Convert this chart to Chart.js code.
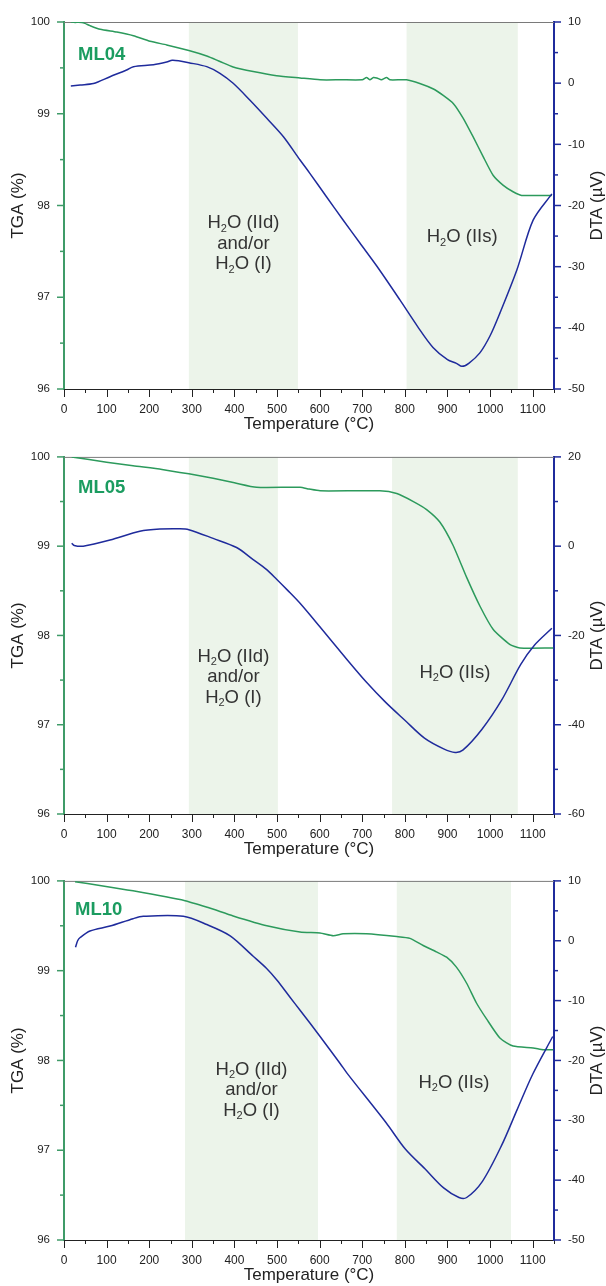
<!DOCTYPE html>
<html>
<head>
<meta charset="utf-8">
<script src="https://cdn.jsdelivr.net/npm/chart.js@4.4.0/dist/chart.umd.min.js"></script>
<style>
  body { margin: 0; background: #fff; }
  #wrap { position: relative; width: 606px; height: 1286px; }
  canvas { position: absolute; left: 0; }
</style>
</head>
<body>
<div id="wrap">
  <canvas id="c1" width="606" height="436" style="top:0px"></canvas>
  <canvas id="c2" width="606" height="424" style="top:436px"></canvas>
  <canvas id="c3" width="606" height="426" style="top:860px"></canvas>
</div>
<script>
// ML04
const ml04TgaTemp = [16, 26, 34, 42, 49, 61, 85, 124, 163, 202, 241, 293, 335, 366, 397, 444, 499, 554, 601, 650, 700, 710, 718, 726, 734, 745, 757, 765, 804, 835, 867, 890, 914, 937, 960, 984, 1007, 1031, 1054, 1074, 1110, 1145];
const ml04Tga     = [100.0, 99.995, 99.998, 99.995, 99.985, 99.96, 99.92, 99.89, 99.85, 99.79, 99.75, 99.69, 99.63, 99.57, 99.51, 99.46, 99.415, 99.39, 99.37, 99.37, 99.37, 99.395, 99.37, 99.395, 99.39, 99.37, 99.395, 99.37, 99.37, 99.33, 99.27, 99.20, 99.11, 98.95, 98.75, 98.53, 98.33, 98.22, 98.15, 98.11, 98.11, 98.11];
const ml04DtaTemp = [16, 38, 69, 108, 147, 163, 210, 241, 254, 272, 293, 335, 366, 397, 436, 476, 515, 554, 577, 616, 655, 694, 734, 788, 830, 866, 900, 921, 934, 950, 976, 1000, 1023, 1063, 1101, 1145];
const ml04Dta     = [-0.46, -0.30, -0.07, 1.06, 2.15, 2.70, 3.02, 3.46, 3.74, 3.62, 3.35, 2.70, 1.61, -0.02, -2.75, -5.74, -8.75, -12.56, -14.74, -18.56, -22.37, -26.1, -29.9, -35.4, -39.8, -43.2, -45.2, -45.8, -46.3, -45.8, -44.1, -41.3, -37.6, -30.5, -22.4, -18.1];
const ml04Bands   = [[293, 549], [804, 1065]];

// ML05
const ml05TgaTemp = [18, 100, 162, 230, 293, 350, 400, 452, 554, 575, 601, 741, 781, 820, 851, 882, 913, 945, 976, 1007, 1046, 1070, 1148];
const ml05Tga     = [100.0, 99.94, 99.90, 99.86, 99.81, 99.76, 99.71, 99.66, 99.66, 99.64, 99.62, 99.62, 99.59, 99.50, 99.41, 99.27, 99.01, 98.65, 98.33, 98.07, 97.90, 97.86, 97.86];
const ml05DtaTemp = [18, 24, 45, 108, 178, 225, 272, 293, 350, 405, 444, 475, 499, 525, 554, 600, 665, 710, 755, 800, 846, 891, 918, 936, 981, 1027, 1072, 1104, 1145];
const ml05Dta     = [0.65, 0.15, 0.0, 1.37, 3.33, 3.84, 3.91, 3.70, 1.74, -0.3, -3.0, -5.2, -7.4, -9.9, -12.8, -18.0, -25.5, -30.5, -35.0, -39.0, -43.0, -45.4, -46.2, -45.7, -41.0, -34.5, -26.5, -22.2, -18.4];
const ml05Bands   = [[293, 502], [770, 1065]];

// ML10
const ml10TgaTemp = [26, 84, 162, 284, 340, 397, 476, 554, 601, 632, 655, 710, 781, 812, 843, 874, 898, 921, 945, 968, 992, 1023, 1054, 1101, 1125, 1148];
const ml10Tga     = [99.99, 99.95, 99.89, 99.78, 99.70, 99.61, 99.50, 99.43, 99.42, 99.39, 99.41, 99.41, 99.38, 99.36, 99.28, 99.21, 99.15, 99.04, 98.86, 98.64, 98.46, 98.25, 98.16, 98.14, 98.12, 98.12];
const ml10DtaTemp = [27, 32, 38, 61, 108, 162, 186, 280, 335, 390, 444, 475, 500, 530, 554, 601, 648, 665, 756, 801, 847, 891, 927, 945, 982, 1027, 1063, 1100, 1147];
const ml10Dta     = [-1.09, 0.0, 0.54, 1.63, 2.45, 3.69, 4.08, 4.08, 2.71, 0.82, -2.6, -4.6, -6.6, -9.4, -11.6, -16.0, -20.5, -22.2, -30.4, -34.8, -38.1, -41.3, -42.9, -42.9, -40.2, -34.2, -28.3, -22.3, -16.0];
const ml10Bands   = [[284, 596], [781, 1049]];

const FONT = "'Liberation Sans', Arial, sans-serif";
const GREEN = '#2c9a5c';
const AXIS_GREEN = '#3f9b68';
const LABEL_GREEN = '#1b9c60';
const BLUE = '#1f2b9c';
const SHADE = '#ecf4ea';
const TEXT = '#333333';

Chart.defaults.font.family = FONT;
Chart.defaults.color = '#222';

function drawRich(ctx, parts, cx, cy, size) {
  const big = size + 'px ' + FONT;
  const small = Math.round(size * 0.6) + 'px ' + FONT;
  let w = 0;
  parts.forEach(([t, sub]) => { ctx.font = sub ? small : big; w += ctx.measureText(t).width; });
  let x = cx - w / 2;
  ctx.textAlign = 'left';
  ctx.textBaseline = 'middle';
  parts.forEach(([t, sub]) => {
    ctx.font = sub ? small : big;
    ctx.fillText(t, x, sub ? cy + size * 0.3 : cy);
    x += ctx.measureText(t).width;
  });
}

function eachTick(min, max, step, major, fn) {
  const n = Math.round((max - min) / step);
  for (let i = 0; i <= n; i++) {
    const v = min + i * step;
    const r = v / major;
    fn(v, Math.abs(r - Math.round(r)) < 1e-6);
  }
}

const decor = {
  id: 'decor',
  beforeDraw(chart, args, o) {
    const {ctx, chartArea: a, scales: {x}} = chart;
    ctx.save();
    ctx.fillStyle = SHADE;
    o.bands.forEach(([t0, t1]) => {
      const x0 = x.getPixelForValue(t0), x1 = x.getPixelForValue(t1);
      ctx.fillRect(x0, a.top, x1 - x0, a.bottom - a.top);
    });
    ctx.restore();
  },
  beforeDatasetsDraw(chart) {
    const {ctx, chartArea: a} = chart;
    // top frame line, under the curves
    ctx.save();
    ctx.strokeStyle = '#7a7a7a';
    ctx.lineWidth = 1;
    ctx.beginPath();
    ctx.moveTo(a.left, a.top + 0.5);
    ctx.lineTo(a.right, a.top + 0.5);
    ctx.stroke();
    ctx.restore();
  },
  afterDraw(chart, args, o) {
    const {ctx, chartArea: a, scales: {x, y, y2}} = chart;
    ctx.save();

    // tick marks
    ctx.lineWidth = 1;
    ctx.strokeStyle = '#222';
    eachTick(x.min, x.max, 50, 100, (v, major) => {
      const px = Math.round(x.getPixelForValue(v)) + 0.5;
      ctx.beginPath(); ctx.moveTo(px, a.bottom); ctx.lineTo(px, a.bottom + (major ? 8 : 4)); ctx.stroke();
    });
    ctx.lineWidth = 1.5;
    ctx.strokeStyle = AXIS_GREEN;
    eachTick(y.min, y.max, 0.5, 1, (v, major) => {
      const py = y.getPixelForValue(v);
      ctx.beginPath(); ctx.moveTo(a.left - (major ? 7 : 4), py); ctx.lineTo(a.left, py); ctx.stroke();
    });
    ctx.strokeStyle = BLUE;
    eachTick(y2.min, y2.max, o.dtaMinor, o.dtaMinor * 2, (v, major) => {
      const py = y2.getPixelForValue(v);
      ctx.beginPath(); ctx.moveTo(a.right, py); ctx.lineTo(a.right + (major ? 7 : 4), py); ctx.stroke();
    });

    // right axis title, reads bottom to top
    ctx.fillStyle = '#222';
    ctx.font = '17px ' + FONT;
    ctx.translate(597, (a.top + a.bottom) / 2);
    ctx.rotate(-Math.PI / 2);
    ctx.textAlign = 'center';
    ctx.textBaseline = 'middle';
    ctx.fillText('DTA (\u00b5V)', 0, 0);
    ctx.setTransform(1, 0, 0, 1, 0, 0);

    // sample name
    ctx.fillStyle = LABEL_GREEN;
    ctx.font = 'bold 18.5px ' + FONT;
    ctx.textAlign = 'left';
    ctx.fillText(o.name, a.left + o.nameDx, a.top + o.nameDy);

    // band annotations
    ctx.fillStyle = TEXT;
    const c1 = x.getPixelForValue((o.bands[0][0] + o.bands[0][1]) / 2);
    const c2 = x.getPixelForValue((o.bands[1][0] + o.bands[1][1]) / 2);
    drawRich(ctx, [['H', 0], ['2', 1], ['O (IId)', 0]], c1, a.top + o.noteDy, 18.5);
    drawRich(ctx, [['and/or', 0]], c1, a.top + o.noteDy + 20.5, 18.5);
    drawRich(ctx, [['H', 0], ['2', 1], ['O (I)', 0]], c1, a.top + o.noteDy + 41, 18.5);
    drawRich(ctx, [['H', 0], ['2', 1], ['O (IIs)', 0]], c2, a.top + o.iisDy, 18.5);
    ctx.restore();
  }
};

function pts(xs, ys) {
  return xs.map((t, i) => ({x: t, y: ys[i]}));
}

function makeChart(p) {
  const ctx = document.getElementById(p.id).getContext('2d');
  return new Chart(ctx, {
    type: 'line',
    data: {
      datasets: [
        {
          label: 'DTA',
          yAxisID: 'y2',
          data: pts(p.dtaT, p.dta),
          borderColor: BLUE,
          borderWidth: 1.5,
          pointRadius: 0,
          tension: 0.3
        },
        {
          label: 'TGA',
          yAxisID: 'y',
          data: pts(p.tgaT, p.tga),
          borderColor: GREEN,
          borderWidth: 1.5,
          pointRadius: 0,
          tension: 0.2
        }
      ]
    },
    options: {
      responsive: false,
      devicePixelRatio: 1,
      animation: false,
      layout: { padding: { top: p.padTop, bottom: p.padBottom, left: 0, right: 0 } },
      plugins: {
        legend: { display: false },
        tooltip: { enabled: false },
        decor: {
          bands: p.bands, name: p.name, nameDx: p.nameDx, nameDy: p.nameDy,
          noteDy: p.noteDy, iisDy: p.iisDy, dtaMinor: p.dtaStep / 2
        }
      },
      scales: {
        x: {
          type: 'linear',
          min: 0, max: 1150,
          grid: { display: false, drawTicks: false },
          border: { display: true, color: '#222', width: 1 },
          ticks: {
            stepSize: 100, includeBounds: false, autoSkip: false, maxRotation: 0, padding: 13.5,
            font: { size: 12 }, color: '#222',
            callback: v => String(v)
          },
          title: { display: true, text: 'Temperature (\u00b0C)', font: { size: 17 }, color: '#222', padding: { top: 0, bottom: 0 } },
          afterFit: s => { s.height = 46; }
        },
        y: {
          position: 'left',
          min: 96, max: 100,
          grid: { display: false, drawTicks: false },
          border: { display: true, color: AXIS_GREEN, width: 2 },
          ticks: { stepSize: 1, padding: 14, font: { size: 11.5 }, color: '#222' },
          title: { display: true, text: 'TGA (%)', font: { size: 17 }, color: '#222', padding: { top: 8, bottom: 0 } },
          afterFit: s => { s.width = 64; }
        },
        y2: {
          position: 'right',
          min: p.dtaMin, max: p.dtaMax,
          grid: { display: false, drawTicks: false },
          border: { display: true, color: BLUE, width: 2 },
          ticks: { stepSize: p.dtaStep, padding: 14, font: { size: 11.5 }, color: '#222' },
          afterFit: s => { s.width = 52; }
        }
      }
    },
    plugins: [decor]
  });
}

const panels = [
  { id: 'c1', name: 'ML04', tgaT: ml04TgaTemp, tga: ml04Tga, dtaT: ml04DtaTemp, dta: ml04Dta, bands: ml04Bands,
    dtaMin: -50, dtaMax: 10, dtaStep: 10, padTop: 22, padBottom: 1, nameDx: 14, nameDy: 33, noteDy: 201, iisDy: 215 },
  { id: 'c2', name: 'ML05', tgaT: ml05TgaTemp, tga: ml05Tga, dtaT: ml05DtaTemp, dta: ml05Dta, bands: ml05Bands,
    dtaMin: -60, dtaMax: 20, dtaStep: 20, padTop: 10, padBottom: 0, nameDx: 14, nameDy: 31, noteDy: 200, iisDy: 216 },
  { id: 'c3', name: 'ML10', tgaT: ml10TgaTemp, tga: ml10Tga, dtaT: ml10DtaTemp, dta: ml10Dta, bands: ml10Bands,
    dtaMin: -50, dtaMax: 10, dtaStep: 10, padTop: 12, padBottom: 0, nameDx: 11, nameDy: 29, noteDy: 189, iisDy: 202 }
];

panels.forEach(makeChart);
</script>
</body>
</html>
